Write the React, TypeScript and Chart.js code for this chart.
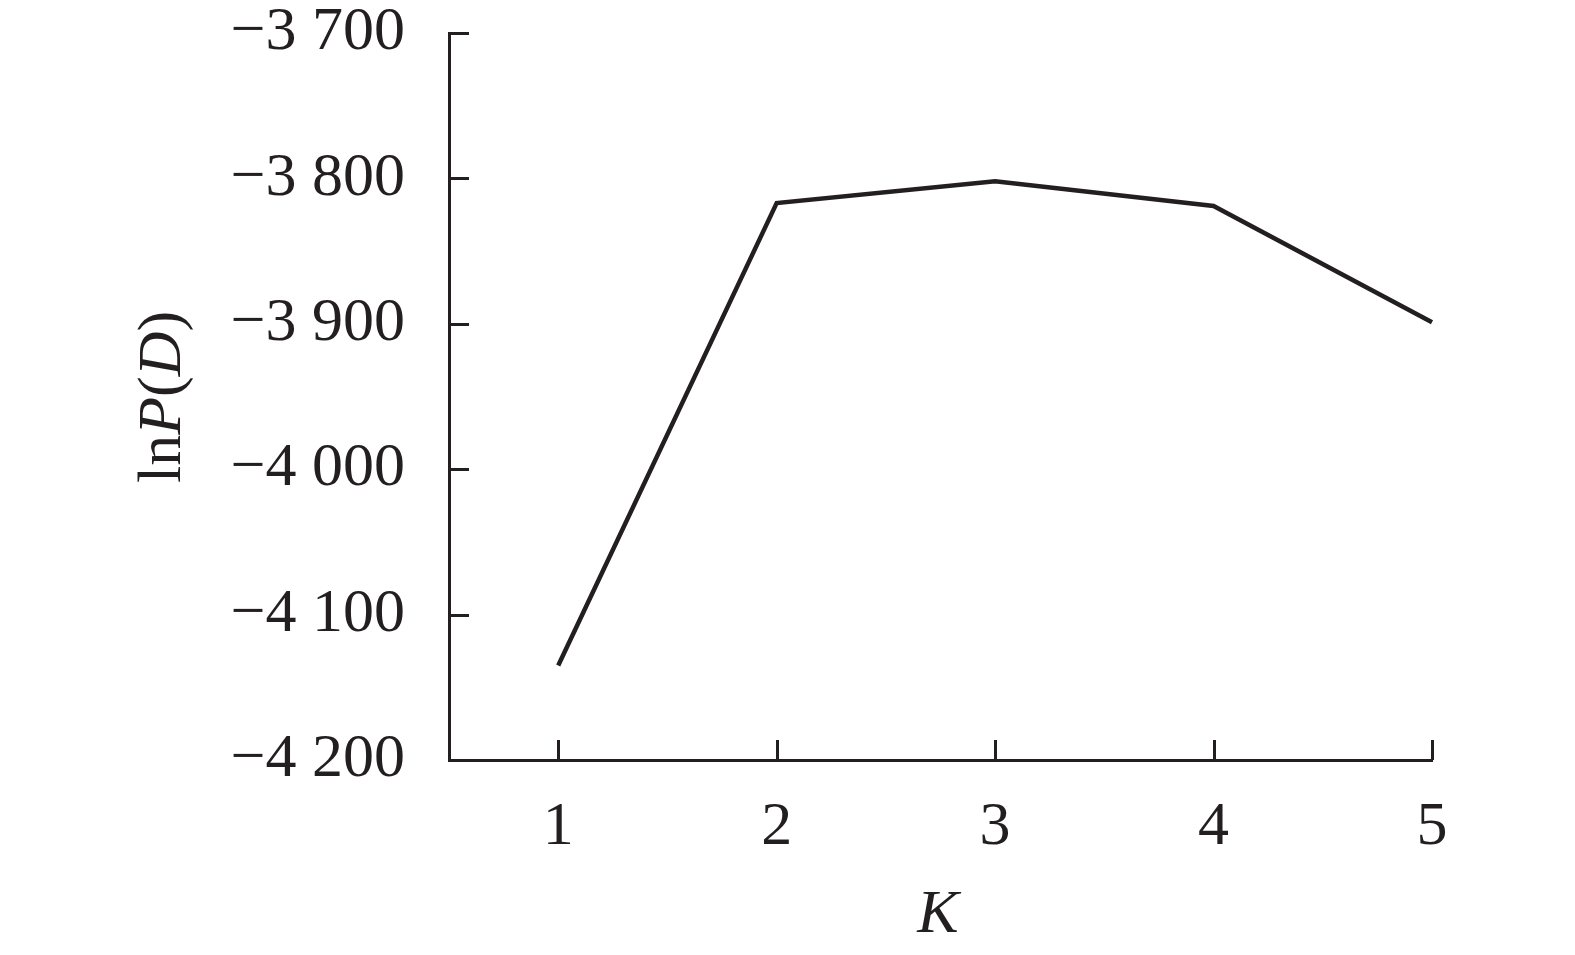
import React, { useEffect, useRef } from "react";
import { Chart, registerables } from "chart.js";

Chart.register(...registerables);

const kValues = [1, 2, 3, 4, 5];
const lnPD = [-4135, -3817, -3802, -3819, -3899];
const yTicks = [-4200, -4100, -4000, -3900, -3800, -3700];
const yTickLabels = ["−4 200", "−4 100", "−4 000", "−3 900", "−3 800", "−3 700"];
const xTickLabels = ["1", "2", "3", "4", "5"];
const xTitle = "K";
const yTitleParts = [
  { text: "ln", italic: false },
  { text: "P", italic: true },
  { text: "(", italic: false },
  { text: "D", italic: true },
  { text: ")", italic: false },
];

const INK = "#231f20";
const FONT = "'Liberation Serif', 'DejaVu Serif', serif";
const FS = 62;

const decorPlugin = {
  id: "decor",
  afterDraw(chart: any) {
    const ctx = chart.ctx;
    const area = chart.chartArea;
    const xs = chart.scales.x;
    const ys = chart.scales.y;
    ctx.save();
    ctx.strokeStyle = INK;
    ctx.lineWidth = 3;
    ctx.lineCap = "butt";
    yTicks.forEach((v) => {
      if (v === yTicks[0]) return;
      const py = Math.round(ys.getPixelForValue(v)) + 0.5;
      ctx.beginPath();
      ctx.moveTo(area.left, py);
      ctx.lineTo(area.left + 20, py);
      ctx.stroke();
    });
    kValues.forEach((v) => {
      const px = Math.round(xs.getPixelForValue(v)) + 0.5;
      ctx.beginPath();
      ctx.moveTo(px, area.bottom);
      ctx.lineTo(px, area.bottom - 20);
      ctx.stroke();
    });
    ctx.fillStyle = INK;
    ctx.font = `italic ${FS}px ${FONT}`;
    ctx.textAlign = "center";
    ctx.textBaseline = "alphabetic";
    ctx.fillText(xTitle, 938, 932);
    ctx.translate(180, 397);
    ctx.rotate(-Math.PI / 2);
    let total = 0;
    const widths = yTitleParts.map((p) => {
      ctx.font = `${p.italic ? "italic " : ""}${FS}px ${FONT}`;
      const w = ctx.measureText(p.text).width;
      total += w;
      return w;
    });
    let cx = -total / 2;
    ctx.textAlign = "left";
    yTitleParts.forEach((p, i) => {
      ctx.font = `${p.italic ? "italic " : ""}${FS}px ${FONT}`;
      ctx.fillText(p.text, cx, 0);
      cx += widths[i];
    });
    ctx.restore();
  },
};

export default function App() {
  const ref = useRef<HTMLCanvasElement | null>(null);
  useEffect(() => {
    if (!ref.current) return;
    const chart = new Chart(ref.current, {
      type: "line",
      data: {
        datasets: [
          {
            data: kValues.map((k, i) => ({ x: k, y: lnPD[i] })),
            borderColor: INK,
            borderWidth: 4.5,
            pointRadius: 0,
            tension: 0,
            fill: false,
            clip: false as any,
            borderCapStyle: "butt",
            borderJoinStyle: "miter",
          },
        ],
      },
      options: {
        responsive: false,
        animation: false,
        layout: { padding: { left: 0, top: 33, right: 143, bottom: 0 } },
        plugins: { legend: { display: false }, tooltip: { enabled: false } },
        scales: {
          x: {
            type: "linear",
            min: 0.5,
            max: 5,
            afterBuildTicks: (s: any) => {
              s.ticks = kValues.map((v) => ({ value: v }));
            },
            afterFit: (s: any) => {
              s.height = 195;
              s.paddingLeft = 0;
              s.paddingRight = 0;
            },
            ticks: {
              autoSkip: false,
              maxRotation: 0,
              padding: 31,
              color: INK,
              font: { family: FONT, size: FS },
              callback: (v: any) => {
                const i = kValues.indexOf(Number(v));
                return i >= 0 ? xTickLabels[i] : "";
              },
            },
            grid: { display: true, drawOnChartArea: false, drawTicks: false },
            border: { display: true, color: INK, width: 3 },
          },
          y: {
            type: "linear",
            min: -4200,
            max: -3700,
            afterBuildTicks: (s: any) => {
              s.ticks = yTicks.map((v) => ({ value: v }));
            },
            afterFit: (s: any) => {
              s.width = 449;
              s.paddingTop = 0;
              s.paddingBottom = 0;
            },
            ticks: {
              autoSkip: false,
              padding: 44,
              color: INK,
              font: { family: FONT, size: FS },
              callback: (v: any) => {
                const i = yTicks.indexOf(Number(v));
                return i >= 0 ? yTickLabels[i] : "";
              },
            },
            grid: { display: true, drawOnChartArea: false, drawTicks: false },
            border: { display: true, color: INK, width: 3 },
          },
        },
      },
      plugins: [decorPlugin],
    } as any);
    return () => chart.destroy();
  }, []);
  return (
    <div style={{ position: "absolute", left: 0, top: 0, width: 1575, height: 955, background: "#fff" }}>
      <canvas ref={ref} width={1575} height={955} />
    </div>
  );
}
